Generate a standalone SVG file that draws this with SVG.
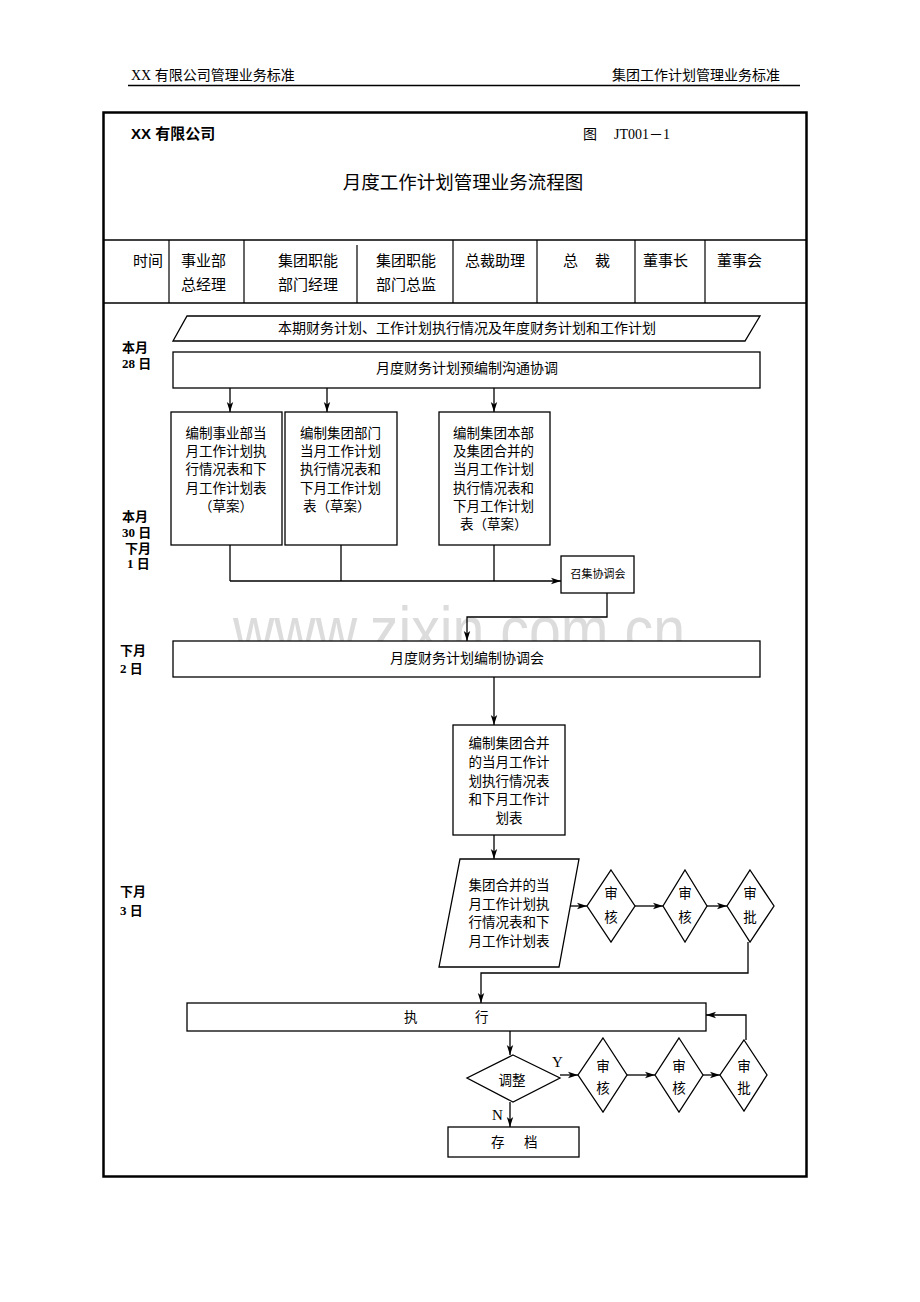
<svg xmlns="http://www.w3.org/2000/svg" width="920" height="1302" viewBox="0 0 920 1302">
<style>
text{font-family:"Liberation Serif","Noto Sans CJK SC",serif;fill:#000}
.h{font-size:13.5px}
.ph{font-size:14px}
.th{font-size:15px}
.t{font-size:13.5px;text-anchor:middle}
.w{font-size:14px;text-anchor:middle}
.s{font-size:11px;text-anchor:middle}
.d{font-size:13px;font-weight:bold}
.box{fill:#fff;stroke:#000;stroke-width:1.3}
.c{fill:none;stroke:#000;stroke-width:1.3}
.ca{fill:none;stroke:#000;stroke-width:1.3;marker-end:url(#ah)}
</style>
<defs>
<marker id="ah" markerUnits="userSpaceOnUse" markerWidth="11" markerHeight="8" refX="10" refY="4" orient="auto">
<path d="M0,0.8 L10,4 L0,7.2 L2.5,4 z" fill="#000"/>
</marker>
</defs>
<rect width="920" height="1302" fill="#fff"/>
<text x="459" y="653" style="font-family:'Liberation Sans',sans-serif;font-size:66px;fill:#dcdcdc" textLength="452" lengthAdjust="spacingAndGlyphs" text-anchor="middle">www.zixin.com.cn</text>
<g id="page-header">
<text class="ph" x="131" y="80">XX 有限公司管理业务标准</text>
<text class="ph" x="780" y="80" text-anchor="end">集团工作计划管理业务标准</text>
<line x1="128" y1="85.5" x2="800" y2="85.5" stroke="#000" stroke-width="1.5"/>
</g>
<g id="frame">
<rect x="103.5" y="112.5" width="703" height="1064" fill="none" stroke="#000" stroke-width="2.5"/>
<text x="131" y="139" style="font-family:'Liberation Sans','Noto Sans CJK SC',sans-serif;font-size:15px;font-weight:bold">XX 有限公司</text>
<text x="583" y="139" style="font-size:14px">图</text>
<text x="614" y="139" style="font-size:14px">JT001－1</text>
<text x="463" y="189" text-anchor="middle" style="font-family:'Noto Sans CJK SC',sans-serif;font-size:18.5px">月度工作计划管理业务流程图</text>
<line x1="103" y1="240" x2="807" y2="240" stroke="#000" stroke-width="1.5"/>
<line x1="103" y1="303" x2="807" y2="303" stroke="#000" stroke-width="1.5"/>
<g stroke="#000" stroke-width="1.2">
<line x1="169" y1="240" x2="169" y2="303"/>
<line x1="244" y1="240" x2="244" y2="303"/>
<line x1="357" y1="245" x2="357" y2="303"/>
<line x1="453" y1="240" x2="453" y2="303"/>
<line x1="537" y1="240" x2="537" y2="303"/>
<line x1="635" y1="240" x2="635" y2="303"/>
<line x1="705" y1="240" x2="705" y2="303"/>
</g>
<text class="th" x="133" y="266">时间</text>
<text class="th" x="181" y="266">事业部</text>
<text class="th" x="181" y="290">总经理</text>
<text class="th" x="278" y="266">集团职能</text>
<text class="th" x="278" y="290">部门经理</text>
<text class="th" x="376" y="266">集团职能</text>
<text class="th" x="376" y="290">部门总监</text>
<text class="th" x="465" y="266">总裁助理</text>
<text class="th" x="563" y="266">总</text>
<text class="th" x="595" y="266">裁</text>
<text class="th" x="643" y="266">董事长</text>
<text class="th" x="717" y="266">董事会</text>
</g>
<g id="time-labels">
<text class="d" x="122" y="352">本月</text>
<text class="d" x="122" y="368">28 日</text>
<text class="d" x="122" y="521">本月</text>
<text class="d" x="122" y="537">30 日</text>
<text class="d" x="125" y="553">下月</text>
<text class="d" x="127" y="568">1 日</text>
<text class="d" x="120" y="655">下月</text>
<text class="d" x="120" y="673">2 日</text>
<text class="d" x="120" y="896">下月</text>
<text class="d" x="120" y="915">3 日</text>
</g>
<g id="connectors">
<line class="ca" x1="230" y1="388" x2="230" y2="412"/>
<line class="ca" x1="327" y1="388" x2="327" y2="412"/>
<line class="ca" x1="494" y1="388" x2="494" y2="412"/>
<line class="c" x1="230" y1="545" x2="230" y2="581"/>
<line class="c" x1="341" y1="545" x2="341" y2="581"/>
<line class="c" x1="494" y1="545" x2="494" y2="581"/>
<line class="ca" x1="230" y1="581" x2="561" y2="581"/>
<polyline class="ca" points="607,593 607,617 467,617 467,641"/>
<line class="ca" x1="494" y1="677" x2="494" y2="725"/>
<line class="ca" x1="494" y1="835" x2="494" y2="859"/>
<line class="ca" x1="563" y1="906" x2="587" y2="906"/>
<line class="ca" x1="635" y1="906" x2="663" y2="906"/>
<line class="ca" x1="707" y1="906" x2="727" y2="906"/>
<polyline class="ca" points="748,942 748,973 481,973 481,1003"/>
<line class="ca" x1="510" y1="1031" x2="510" y2="1055"/>
<line class="ca" x1="560" y1="1075" x2="578" y2="1075"/>
<line class="ca" x1="627" y1="1075" x2="655" y2="1075"/>
<line class="ca" x1="703" y1="1075" x2="720" y2="1075"/>
<polyline class="ca" points="746,1040 746,1015 706,1015"/>
<line class="ca" x1="510" y1="1102" x2="510" y2="1127"/>
<text x="552" y="1067" style="font-size:15px">Y</text>
<text x="492" y="1120" style="font-size:15px">N</text>
</g>
<g id="input-top">
<polygon class="box" points="187,316 760,316 745,341 173,341"/>
<text class="w" x="467" y="333">本期财务计划、工作计划执行情况及年度财务计划和工作计划</text>
</g>
<g id="pre-coord">
<rect class="box" x="173" y="352" width="587" height="36"/>
<text class="w" x="467" y="373">月度财务计划预编制沟通协调</text>
</g>
<g id="box-bu">
<rect class="box" x="171" y="412" width="111" height="133"/>
<text class="t" x="226" y="438">编制事业部当</text>
<text class="t" x="226" y="456">月工作计划执</text>
<text class="t" x="226" y="474">行情况表和下</text>
<text class="t" x="226" y="493">月工作计划表</text>
<text class="t" x="226" y="511">（草案）</text>
</g>
<g id="box-dept">
<rect class="box" x="285" y="412" width="112" height="133"/>
<text class="h" x="300" y="438">编制集团部门</text>
<text class="h" x="300" y="456">当月工作计划</text>
<text class="h" x="300" y="474">执行情况表和</text>
<text class="h" x="300" y="493">下月工作计划</text>
<text class="h" x="303" y="511">表（草案）</text>
</g>
<g id="box-hq">
<rect class="box" x="439" y="412" width="111" height="133"/>
<text class="h" x="453" y="438">编制集团本部</text>
<text class="h" x="453" y="456">及集团合并的</text>
<text class="h" x="453" y="474">当月工作计划</text>
<text class="h" x="453" y="493">执行情况表和</text>
<text class="h" x="453" y="511">下月工作计划</text>
<text class="h" x="460" y="529">表（草案）</text>
</g>
<g id="convene">
<rect class="box" x="561" y="556" width="73" height="37"/>
<text class="s" x="598" y="578">召集协调会</text>
</g>
<g id="coord-meeting">
<rect class="box" x="173" y="641" width="587" height="36"/>
<text class="w" x="467" y="663">月度财务计划编制协调会</text>
</g>
<g id="box-merge">
<rect class="box" x="453" y="725" width="112" height="110"/>
<text class="t" x="509" y="748">编制集团合并</text>
<text class="t" x="509" y="767">的当月工作计</text>
<text class="t" x="509" y="786">划执行情况表</text>
<text class="t" x="509" y="804">和下月工作计</text>
<text class="t" x="509" y="823">划表</text>
</g>
<g id="doc-merge">
<polygon class="box" points="460,859 579,859 559,967 439,967"/>
<text class="t" x="509" y="890">集团合并的当</text>
<text class="t" x="509" y="909">月工作计划执</text>
<text class="t" x="509" y="927">行情况表和下</text>
<text class="t" x="509" y="946">月工作计划表</text>
</g>
<g id="review1">
<polygon class="box" points="611,870 635,906 611,942 587,906"/>
<text class="t" x="611" y="898">审</text>
<text class="t" x="611" y="922">核</text>
</g>
<g id="review2">
<polygon class="box" points="685,870 707,906 685,942 663,906"/>
<text class="t" x="685" y="898">审</text>
<text class="t" x="685" y="922">核</text>
</g>
<g id="approve1">
<polygon class="box" points="750,870 774,906 750,942 727,906"/>
<text class="t" x="750" y="898">审</text>
<text class="t" x="750" y="922">批</text>
</g>
<g id="execute">
<rect class="box" x="187" y="1003" width="519" height="28"/>
<text class="h" x="404" y="1022">执</text>
<text class="h" x="475" y="1022">行</text>
</g>
<g id="adjust">
<polygon class="box" points="513,1055 560,1078 513,1102 467,1078"/>
<text class="t" x="512" y="1085">调整</text>
</g>
<g id="review3">
<polygon class="box" points="603,1038 627,1075 603,1112 578,1075"/>
<text class="t" x="603" y="1071">审</text>
<text class="t" x="603" y="1093">核</text>
</g>
<g id="review4">
<polygon class="box" points="679,1038 703,1075 679,1112 655,1075"/>
<text class="t" x="679" y="1071">审</text>
<text class="t" x="679" y="1093">核</text>
</g>
<g id="approve2">
<polygon class="box" points="744,1040 767,1075 744,1111 720,1075"/>
<text class="t" x="744" y="1071">审</text>
<text class="t" x="744" y="1093">批</text>
</g>
<g id="archive">
<rect class="box" x="448" y="1127" width="131" height="30"/>
<text class="h" x="491" y="1147">存</text>
<text class="h" x="524" y="1147">档</text>
</g>
</svg>
